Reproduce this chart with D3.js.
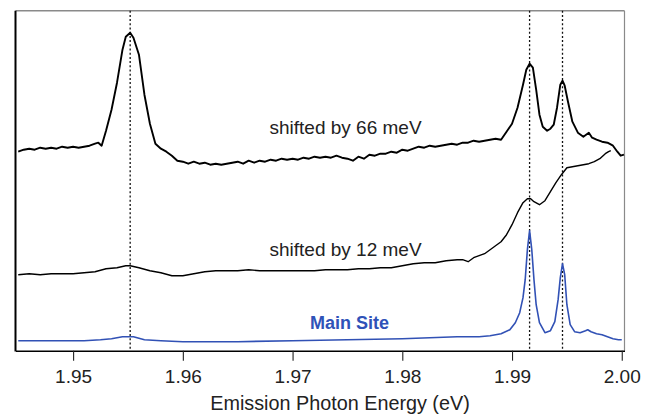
<!DOCTYPE html>
<html>
<head>
<meta charset="utf-8">
<script src="https://cdn.jsdelivr.net/npm/d3@7"></script>
<style>
  html, body { margin: 0; padding: 0; background: #fff; }
  svg { display: block; }
  text { font-family: "Liberation Sans", Arial, Helvetica, sans-serif; }
</style>
</head>
<body>
<svg id="chart" width="651" height="414"></svg>
<script>
// Emission spectra (arbitrary intensity units, curves offset vertically)

// Spectrum shifted by 66 meV
const energyShift66 = [1.9450,1.9455,1.9460,1.9465,1.9470,1.9475,1.9480,1.9485,1.9490,1.9495,1.9500,1.9505,1.9510,1.9515,1.9520,1.9523,1.9526,1.9530,1.9535,1.9540,1.9545,1.9548,1.9552,1.9555,1.9560,1.9565,1.9570,1.9575,1.9580,1.9585,1.9590,1.9595,1.9600,1.9605,1.9610,1.9615,1.9620,1.9625,1.9630,1.9635,1.9640,1.9645,1.9650,1.9655,1.9660,1.9665,1.9670,1.9675,1.9680,1.9685,1.9690,1.9695,1.9700,1.9705,1.9710,1.9715,1.9720,1.9725,1.9730,1.9735,1.9740,1.9745,1.9750,1.9755,1.9760,1.9765,1.9770,1.9775,1.9780,1.9785,1.9790,1.9795,1.9800,1.9805,1.9810,1.9815,1.9820,1.9825,1.9830,1.9835,1.9840,1.9845,1.9850,1.9855,1.9860,1.9865,1.9870,1.9875,1.9880,1.9885,1.9890,1.9895,1.9900,1.9905,1.9910,1.9913,1.9916,1.9919,1.9922,1.9925,1.9928,1.9932,1.9935,1.9938,1.9941,1.9944,1.9946,1.9948,1.9951,1.9955,1.9960,1.9965,1.9970,1.9973,1.9977,1.9982,1.9987,1.9992,1.9996,1.9999,2.0002];
const intensityShift66 = [199,201,202,201,203,202,203,202,204,203,204,203,204,205,207,208,205,220,241,268,301,314,318,313,296,256,227,207,202,199,195,190,189,187,189,187,188,186,187,186,187,188,189,187,190,188,190,189,191,190,192,191,192,191,193,192,194,193,194,193,195,193,192,190,194,192,196,195,197,197,199,198,201,200,202,204,203,205,204,205,206,207,206,208,208,210,209,210,211,212,211,219,227,243,266,281,287,283,261,236,224,220,222,226,243,266,270,265,249,229,218,214,218,213,211,209,208,205,199,195,196];

// Spectrum shifted by 12 meV
const energyShift12 = [1.9450,1.9460,1.9470,1.9480,1.9490,1.9500,1.9510,1.9520,1.9530,1.9540,1.9548,1.9552,1.9560,1.9570,1.9580,1.9590,1.9600,1.9610,1.9620,1.9630,1.9640,1.9650,1.9660,1.9670,1.9680,1.9690,1.9700,1.9710,1.9720,1.9730,1.9740,1.9750,1.9760,1.9770,1.9780,1.9790,1.9800,1.9810,1.9820,1.9830,1.9840,1.9850,1.9855,1.9860,1.9865,1.9870,1.9875,1.9880,1.9885,1.9890,1.9895,1.9900,1.9905,1.9910,1.9914,1.9917,1.9920,1.9925,1.9930,1.9935,1.9940,1.9945,1.9950,1.9955,1.9960,1.9965,1.9970,1.9975,1.9980,1.9985,1.9988,1.9990];
const intensityShift12 = [76,77,76,77,77,77,78,79,82,83,85,85,83,80,78,75,75,77,79,80,80,80,81,80,80,80,80,80,80,81,81,81,82,82,83,83,85,87,88,88,90,91,91,89,93,95,97,101,105,109,116,126,138,148,152,152,149,146,150,159,168,176,183,184,185,186,187,189,192,197,199,200];

// Main site spectrum
const energyMain = [1.9450,1.9470,1.9490,1.9510,1.9525,1.9535,1.9545,1.9550,1.9555,1.9565,1.9580,1.9600,1.9650,1.9700,1.9750,1.9800,1.9850,1.9870,1.9880,1.9890,1.9898,1.9903,1.9907,1.9910,1.9912,1.9914,1.9916,1.9918,1.9920,1.9922,1.9925,1.9930,1.9935,1.9939,1.9942,1.9944,1.9946,1.9948,1.9950,1.9953,1.9957,1.9962,1.9967,1.9969,1.9972,1.9977,1.9982,1.9987,1.9992,1.9997,2.0000];
const intensityMain = [10,10,10,10,11,12,14,14,14,11,10,9,9,10,11,12,14,14,15,17,21,28,38,53,71,101,120,101,71,46,28,18,20,29,51,73,87,76,46,26,19,18,20,21,19,17,16,14,12,11,11];

// Reference energies marked with dotted lines (eV)
const markerEnergies = [1.9552, 1.9916, 1.9946];

// Axis ticks
const tickValues = [1.95, 1.96, 1.97, 1.98, 1.99, 2.00];
const xTitle = "Emission Photon Energy (eV)";

// Curve labels: text, anchor energy, anchor intensity
const labelTexts = ["shifted by 66 meV", "shifted by 12 meV", "Main Site"];
const labelEnergies = [1.9679, 1.9679, 1.9716];
const labelIntensities = [217, 95, 22];

const svg = d3.select("#chart");
const plotLeft = 15.5, plotRight = 624.5, plotTop = 10.7, plotBottom = 350.7;

const x = d3.scaleLinear().domain([1.94475, 2.00025]).range([plotLeft, plotRight]);
const y = d3.scaleLinear().domain([0, 340]).range([plotBottom, plotTop]);

// Frame: grey top and right edges
svg.append("line").attr("x1", plotLeft).attr("x2", plotRight).attr("y1", plotTop).attr("y2", plotTop)
  .attr("stroke", "#8a8a8a").attr("stroke-width", 1.6);
svg.append("line").attr("x1", plotRight).attr("x2", plotRight).attr("y1", plotTop).attr("y2", plotBottom)
  .attr("stroke", "#8a8a8a").attr("stroke-width", 1.2);

// Dotted reference lines
svg.append("g").selectAll("line").data(markerEnergies).join("line")
  .attr("x1", d => x(d)).attr("x2", d => x(d))
  .attr("y1", plotTop).attr("y2", plotBottom)
  .attr("stroke", "#111").attr("stroke-width", 1.3)
  .attr("stroke-dasharray", "2,2.2");

// Curves
const series = [
  { e: energyShift66, v: intensityShift66, color: "#000", width: 1.9 },
  { e: energyShift12, v: intensityShift12, color: "#000", width: 1.4 },
  { e: energyMain,    v: intensityMain,    color: "#3151b5", width: 1.6 }
];
const line = d3.line().x(d => x(d[0])).y(d => y(d[1]));
svg.append("g").selectAll("path").data(series).join("path")
  .attr("d", s => line(s.e.map((e, i) => [e, s.v[i]])))
  .attr("fill", "none")
  .attr("stroke", s => s.color)
  .attr("stroke-width", s => s.width)
  .attr("stroke-linejoin", "round");

// Left axis line
svg.append("line").attr("x1", plotLeft).attr("x2", plotLeft).attr("y1", plotTop).attr("y2", plotBottom + 0.8)
  .attr("stroke", "#000").attr("stroke-width", 2);

// Bottom axis
const xAxis = d3.axisBottom(x).tickValues(tickValues).tickFormat(d3.format(".2f"))
  .tickSizeInner(10).tickSizeOuter(0).tickPadding(9);
const gx = svg.append("g").attr("transform", `translate(0,${plotBottom})`).call(xAxis);
gx.select(".domain").attr("stroke", "#000").attr("stroke-width", 1.6);
gx.selectAll(".tick line").attr("stroke", "#222").attr("stroke-width", 1.1);
gx.selectAll(".tick text").attr("font-size", 19).attr("fill", "#222")
  .attr("font-family", "Liberation Sans, Arial, sans-serif");

svg.append("text").attr("x", 340).attr("y", 410)
  .attr("text-anchor", "middle").attr("font-size", 19.8).attr("fill", "#222")
  .text(xTitle);

// Curve labels
const labelColors = ["#222", "#222", "#2f52b8"];
const labelWeights = ["normal", "normal", "bold"];
const labelSizes = [19, 19, 18];
svg.append("g").selectAll("text").data(labelTexts).join("text")
  .attr("x", (d, i) => x(labelEnergies[i]))
  .attr("y", (d, i) => y(labelIntensities[i]))
  .attr("fill", (d, i) => labelColors[i])
  .attr("font-weight", (d, i) => labelWeights[i])
  .attr("font-size", (d, i) => labelSizes[i])
  .text(d => d);
</script>
</body>
</html>
